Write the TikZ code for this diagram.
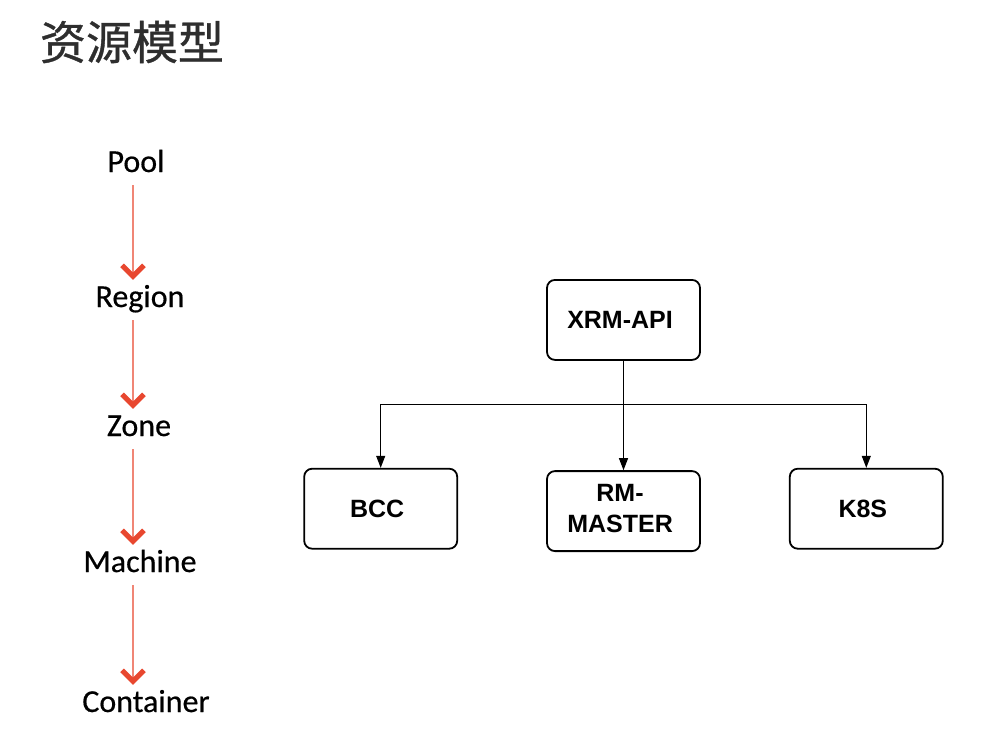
\documentclass[tikz,border=0pt]{standalone}
\usepackage{fontspec}
\setmainfont{Liberation Sans}
\newfontfamily\cjk{Noto Sans CJK SC}[FakeBold=0.8]
\newfontfamily\lvlfont{Carlito}[FakeBold=0.5]
\usepackage{tikz}
\usetikzlibrary{matrix,arrows.meta}
\definecolor{lvlline}{HTML}{F08676}
\definecolor{lvlhead}{HTML}{E8472F}
\definecolor{titlegray}{HTML}{2E2E2E}
\tikzset{
  lvl/.style={anchor=base, inner sep=0pt, text height=21pt, text depth=6pt,
    font=\lvlfont\fontsize{32}{36}\selectfont, text=black},
  lvlarrow/.style={draw=lvlline, line width=2.2pt, shorten <=7pt, shorten >=6pt,
    -{Straight Barb[length=11pt,width=22pt,line width=5pt,color=lvlhead]}},
  svc/.style={draw, line width=1.8pt, rounded corners=8pt, minimum width=153pt,
    minimum height=80pt, align=center, inner sep=2pt,
    font=\bfseries\fontsize{25}{31}\selectfont},
  link/.style={line width=1pt, -{Triangle[length=12pt,width=9pt]}}
}
\newcommand{\twolines}[2]{\begin{tabular}{@{}c@{}}#1\\#2\end{tabular}}

\begin{document}
\begin{tikzpicture}[x=1pt,y=-1pt]
  \useasboundingbox (0,0) rectangle (994,740);

  % title
  \node (title) at (132,42) {\cjk\fontsize{46}{50}\selectfont\color{titlegray}资源模型};

  % hierarchy on the left
  \node[lvl] (pool)      at (136,172) {Pool};
  \node[lvl] (region)    at (140,307) {Region};
  \node[lvl] (zone)      at (139,436) {Zone};
  \node[lvl] (machine)   at (140,572) {Machine};
  \node[lvl] (container) at (146,712) {Container};
  \coordinate (ax) at (133,0);
  \draw[lvlarrow] (pool.south -| ax)    -- (region.north -| ax);
  \draw[lvlarrow] (region.south -| ax)  -- (zone.north -| ax);
  \draw[lvlarrow] (zone.south -| ax)    -- (machine.north -| ax);
  \draw[lvlarrow] (machine.south -| ax) -- (container.north -| ax);

  % services
  \matrix (b) at (623.5,415.5) [matrix of nodes, nodes={svc}, row sep=107pt, column sep=88pt]
  {
          & XRM-API                  &     \\
    BCC   & \twolines{RM-}{MASTER}   & K8S \\
  };
  \path (b-1-2.south) ++(0,44) coordinate (bus);
  \path[link]
  (b-1-2) edge (b-2-2);
  \draw[link] (bus) -| (b-2-1);
  \draw[link] (bus) -| (b-2-3);
\end{tikzpicture}
\end{document}
